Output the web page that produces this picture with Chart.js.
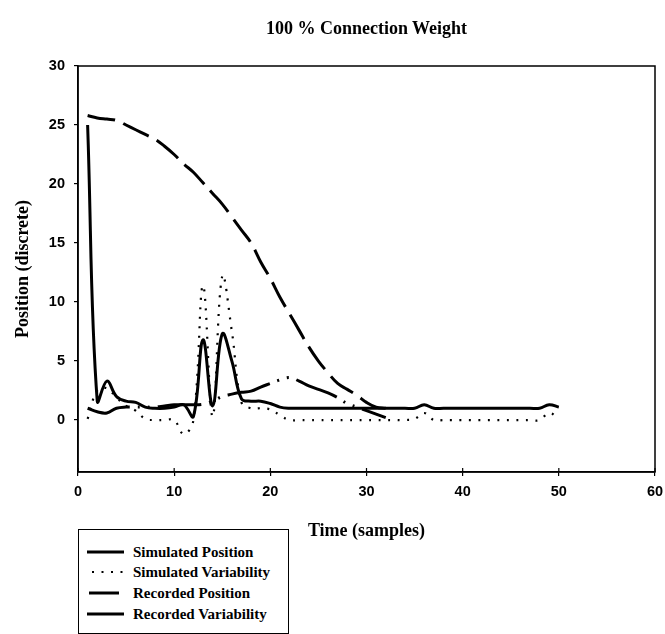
<!DOCTYPE html>
<html>
<head>
<meta charset="utf-8">
<title>100 % Connection Weight</title>
<script src="https://cdn.jsdelivr.net/npm/chart.js@4.4.1/dist/chart.umd.min.js"></script>
<style>
    html, body { margin: 0; padding: 0; background: #fff; }
    #wrap { position: relative; width: 665px; height: 634px; overflow: hidden; }
    #chart { position: absolute; left: 0; top: 0; }
    #chartTitle {
        position: absolute; left: 78px; width: 577px; top: 17px;
        text-align: center; font: bold 18px "Liberation Serif", "Times New Roman", serif;
        line-height: 22px; color: #000;
    }
    #legend {
        position: absolute; left: 78px; top: 529px; width: 211px; height: 105px;
        border: 1.5px solid #000; box-sizing: border-box; background: #fff;
        font: bold 15px "Liberation Serif", "Times New Roman", serif; color: #000;
    }
    .legend-item { position: absolute; left: 0; height: 20px; display: flex; align-items: center; white-space: nowrap; }
    .legend-item svg { margin-left: 8px; margin-right: 8px; }
</style>
</head>
<body>
<div id="wrap">
    <canvas id="chart" width="665" height="634"></canvas>
    <div id="chartTitle"></div>
    <div id="legend"></div>
</div>
<script>
// ==========================================
// Chart data
// ==========================================

const chartTitle = '100 % Connection Weight';
const xAxisTitle = 'Time (samples)';
const yAxisTitle = 'Position (discrete)';

const seriesNames = ['Simulated Position', 'Simulated Variability', 'Recorded Position', 'Recorded Variability'];

const samples = [1, 2, 3, 4, 5, 6, 7, 8, 9, 10, 11, 12, 13, 14, 15, 16, 17, 18, 19, 20,
    21, 22, 23, 24, 25, 26, 27, 28, 29, 30, 31, 32, 33, 34, 35, 36, 37, 38, 39, 40,
    41, 42, 43, 44, 45, 46, 47, 48, 49, 50];

const simPosition = [25.0, 1.6, 3.3, 2.0, 1.6, 1.5, 1.1, 1.0, 1.0, 1.1, 1.3, 0.3, 6.8, 1.2, 7.3, 5.0, 1.8, 1.6, 1.6, 1.4,
    1.1, 1.0, 1.0, 1.0, 1.0, 1.0, 1.0, 1.0, 1.0, 1.0, 1.0, 1.0, 1.0, 1.0, 1.0, 1.3, 1.0, 1.0, 1.0, 1.0,
    1.0, 1.0, 1.0, 1.0, 1.0, 1.0, 1.0, 1.0, 1.3, 1.1];

const simVariability = [0.1, 2.5, 2.7, 1.9, 1.2, 0.8, 0.1, 0.0, 0.0, 0.0, -1.2, 0.0, 11.4, 0.3, 12.2, 7.5, 1.5, 1.0, 1.0, 0.9,
    0.4, 0.0, 0.0, 0.0, 0.0, 0.0, 0.0, 0.0, 0.0, 0.0, 0.0, 0.0, 0.0, 0.0, 0.1, 0.6, 0.0, 0.0, 0.0, 0.0,
    0.0, 0.0, 0.0, 0.0, 0.0, 0.0, 0.0, 0.0, 0.6, 0.1];

const recPosition = [25.8, 25.6, 25.5, 25.4, 25.0, 24.6, 24.2, 23.8, 23.2, 22.5, 21.7, 21.0, 20.1, 19.2, 18.3, 17.2,
    16.1, 15.0, 13.4, 12.0, 10.4, 9.0, 7.6, 6.2, 5.0, 4.0, 3.1, 2.6, 2.1, 1.5, 1.1, 1.0];

const recVariability = [1.0, 0.7, 0.6, 1.0, 1.1, 1.1, 1.1, 1.1, 1.2, 1.3, 1.3, 1.3, 1.35, 1.6, 2.0, 2.2,
    2.35, 2.45, 2.8, 3.1, 3.4, 3.6, 3.3, 2.9, 2.6, 2.3, 1.9, 1.4, 1.1, 0.8, 0.5, 0.2];

const xTicks = [0, 10, 20, 30, 40, 50, 60];
const yTicks = [0, 5, 10, 15, 20, 25, 30];

// line looks, same order as seriesNames
const seriesStyles = [
    { width: 3, dash: [] },
    { width: 2.2, dash: [2, 7.5] },
    { width: 3, dash: [28, 9] },
    { width: 3, dash: [44, 8, 2, 8, 2, 8] }
];

const seriesValues = [simPosition, simVariability, recPosition, recVariability];

// ==========================================
// Plugins
// ==========================================

// Box round the plot area plus the small inner tick marks on the time axis
const plotFramePlugin = {
    id: 'plotFrame',
    afterDatasetsDraw(chart) {
        const { ctx, chartArea: a, scales } = chart;
        ctx.save();
        ctx.strokeStyle = '#000';
        ctx.lineWidth = 1.5;
        ctx.strokeRect(a.left, a.top, a.right - a.left, a.bottom - a.top);
        ctx.lineWidth = 1.2;
        ctx.beginPath();
        scales.x.ticks.forEach(t => {
            const px = scales.x.getPixelForValue(t.value);
            ctx.moveTo(px, a.bottom);
            ctx.lineTo(px, a.bottom - 4);
        });
        ctx.stroke();
        ctx.restore();
    }
};

const tickFont = { family: '"Liberation Sans", Arial, sans-serif', size: 14.5, weight: 'bold' };
const titleFont = { family: '"Liberation Serif", "Times New Roman", serif', size: 18, weight: 'bold' };

// ==========================================
// Chart
// ==========================================

function buildDatasets() {
    return seriesNames.map((name, i) => ({
        label: name,
        data: seriesValues[i].map((v, j) => ({ x: samples[j], y: v })),
        borderColor: '#000',
        backgroundColor: '#000',
        borderWidth: seriesStyles[i].width,
        borderDash: seriesStyles[i].dash,
        pointRadius: 0,
        fill: false,
        tension: 0.4
    }));
}

function initChart() {
    const ctx = document.getElementById('chart');
    new Chart(ctx, {
        type: 'line',
        data: { datasets: buildDatasets() },
        options: {
            responsive: false,
            animation: false,
            layout: { padding: { top: 66, right: 10, bottom: 92, left: 0 } },
            plugins: {
                legend: { display: false },
                title: { display: false },
                tooltip: { enabled: false }
            },
            scales: {
                x: {
                    type: 'linear',
                    min: 0,
                    max: 60,
                    afterBuildTicks: scale => { scale.ticks = xTicks.map(v => ({ value: v })); },
                    afterFit: scale => {
                        scale.height = 70;
                        scale.paddingRight = 8;
                        scale.paddingLeft = 4;
                    },
                    grid: { drawOnChartArea: false, tickLength: 4, color: '#000', lineWidth: 1.2 },
                    border: { color: '#000', width: 1.5 },
                    ticks: { color: '#000', font: tickFont, padding: 7, maxRotation: 0 },
                    title: { display: true, text: xAxisTitle, color: '#000', font: titleFont, padding: { top: 0, bottom: 0 } }
                },
                y: {
                    type: 'linear',
                    min: -4.4,
                    max: 30,
                    afterBuildTicks: scale => { scale.ticks = yTicks.map(v => ({ value: v })); },
                    afterFit: scale => { scale.width = 78; },
                    grid: { drawOnChartArea: false, tickLength: 4, color: '#000', lineWidth: 1.2 },
                    border: { color: '#000', width: 1.5 },
                    ticks: { color: '#000', font: tickFont, padding: 9 },
                    title: { display: true, text: yAxisTitle, color: '#000', font: titleFont, padding: { top: 13, bottom: 0 } }
                }
            }
        },
        plugins: [plotFramePlugin]
    });
}

// HTML legend in the boxed area under the plot
function buildLegend() {
    const legend = document.getElementById('legend');
    const rowTops = [12, 32, 53, 74];
    seriesNames.forEach((name, i) => {
        const st = seriesStyles[i];
        const item = document.createElement('div');
        item.className = 'legend-item';
        item.style.top = rowTops[i] + 'px';
        const dash = i === 2 ? '30 0' : (st.dash.length ? st.dash.join(' ') : 'none');
        const x1 = i === 1 ? 5 : (i === 2 ? 2 : 0);
        const x2 = i === 1 ? 36 : (i === 2 ? 32 : 37);
        item.innerHTML = `
            <svg width="38" height="10"><line x1="${x1}" y1="5" x2="${x2}" y2="5" stroke="#000"
                stroke-width="${st.width}" stroke-dasharray="${dash}" /></svg>
            <span>${name}</span>
        `;
        legend.appendChild(item);
    });
}

document.getElementById('chartTitle').textContent = chartTitle;
buildLegend();
initChart();
</script>
</body>
</html>
